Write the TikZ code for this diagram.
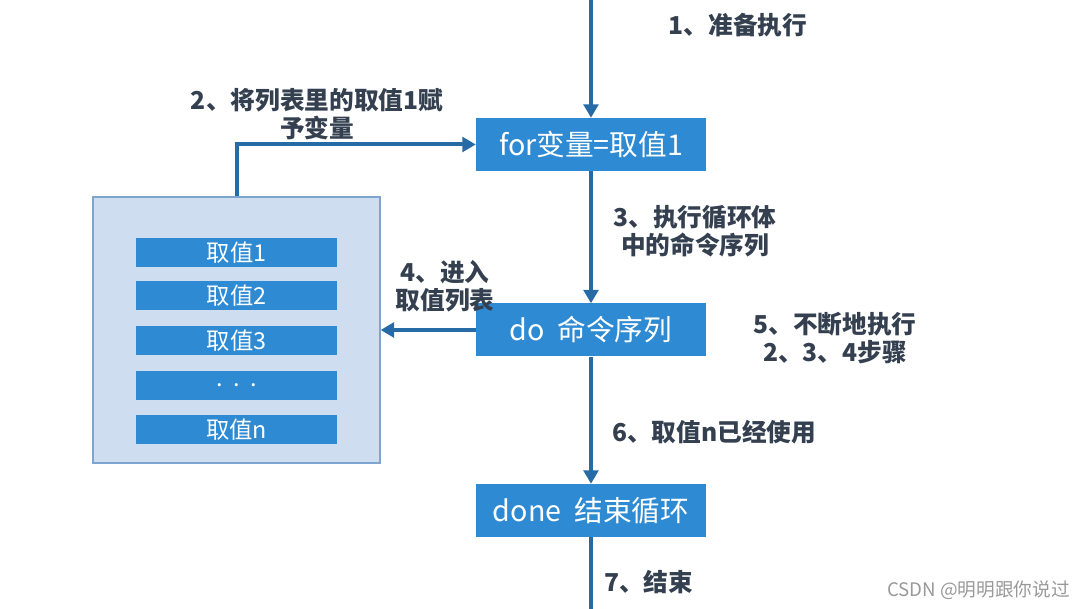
\documentclass[tikz,border=0pt]{standalone}
\usepackage{fontspec}
\setmainfont{Noto Sans CJK SC}
\usetikzlibrary{arrows.meta}

\definecolor{boxblue}{RGB}{46,138,210}
\definecolor{lineblue}{RGB}{38,106,166}
\definecolor{listfill}{RGB}{206,221,240}
\definecolor{listline}{RGB}{125,165,208}
\definecolor{labelgray}{RGB}{52,64,80}

\begin{document}
\begin{tikzpicture}[x=0.75pt,y=0.75pt,yscale=-1,xscale=1,
	stepbox/.style={fill=boxblue,text=white,minimum width=172.5pt,minimum height=39.75pt,inner sep=0pt,font=\fontsize{21.5}{25}\selectfont},
	listbox/.style={fill=listfill,draw=listline,line width=1pt,minimum width=215.25pt,minimum height=199.5pt,inner sep=0pt},
	valbar/.style={fill=boxblue,text=white,minimum width=150.75pt,minimum height=21.75pt,inner sep=0pt,font=\fontsize{17.5}{20}\selectfont},
	steplabel/.style={text=labelgray,align=center,inner sep=0pt,font=\bfseries\fontsize{18.5}{21}\selectfont},
	flow/.style={draw=lineblue,line width=3pt,-{Triangle[length=10pt,width=11pt]}}]
	\path[use as bounding box] (0,0) rectangle (1083,609);

	% Text Node
	\node (for) at (591,144.5) [stepbox] {for变量=取值1};
	% Text Node
	\node (do) at (591,330) [stepbox] {do\ \ 命令序列};
	% Text Node
	\node (done) at (591,510.5) [stepbox] {done\ \ 结束循环};
	% Text Node
	\node (list) at (236.5,330) [listbox] {};
	\node (val1) at (236.5,252.5) [valbar] {取值1};
	\node (val2) at (236.5,296) [valbar] {取值2};
	\node (val3) at (236.5,340.5) [valbar] {取值3};
	\node (valdots) at (236.5,385.5) [valbar] {.\ \ .\ \ .};
	\node (valn) at (236.5,429.5) [valbar] {取值n};
	% Text Node
	\coordinate (start) at (591,0);
	\coordinate (end) at (591,609);
	% Text Node
	\node (l1) at (738,25) [steplabel] {1、准备执行};
	\node (l2) at (317,114) [steplabel] {2、将列表里的取值1赋\\予变量};
	\node (l3) at (695,231.5) [steplabel] {3、执行循环体\\中的命令序列};
	\node (l4) at (445,286.5) [steplabel] {4、进入\\取值列表};
	\node (l5) at (835,338.5) [steplabel] {5、不断地执行\\2、3、4步骤};
	\node (l6) at (612,432) [steplabel,anchor=west] {6、取值n已经使用};
	\node (l7) at (604,582) [steplabel,anchor=west] {7、结束};
	\node (mark) at (1070,590) [anchor=east,inner sep=0pt,text=gray!80,font=\fontsize{14}{16}\selectfont] {CSDN @明明跟你说过};

	% Connection
	\draw [flow] (start) -- (for);
	% Connection
	\draw [flow] (list.north) |- (for.west);
	% Connection
	\draw [flow] (for) -- (do);
	% Connection
	\draw [flow] (do.west) -- (list.east);
	% Connection
	\draw [flow] (do) -- (done);
	% Connection
	\draw [draw=lineblue,line width=3pt] (done.south) -- (end);

\end{tikzpicture}
\end{document}
